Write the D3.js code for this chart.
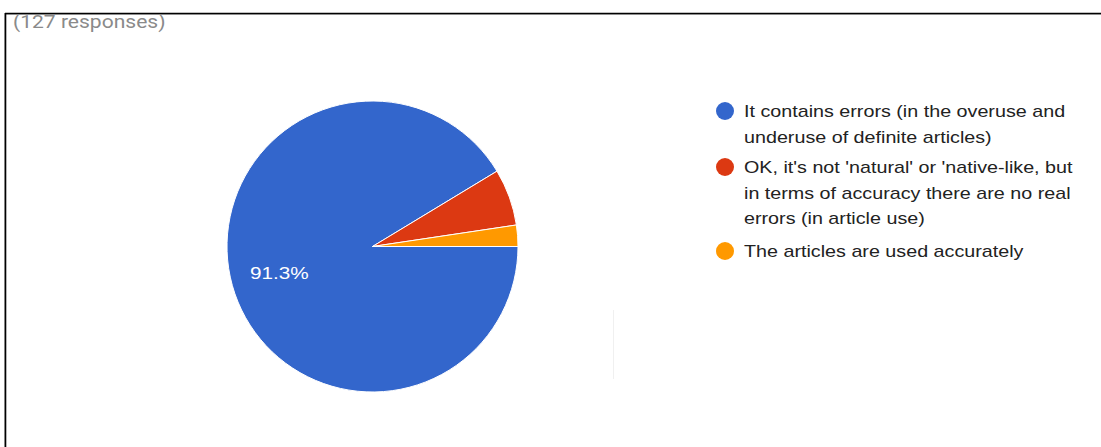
<!DOCTYPE html>
<html>
<head>
<meta charset="utf-8">
<script src="https://cdn.jsdelivr.net/npm/d3@7"></script>
<style>
  html, body { margin: 0; padding: 0; background: #fff; }
  svg { display: block; }
</style>
</head>
<body>
<svg id="chart" width="1101" height="447"></svg>
<script>
// Survey answers and response counts
const categories = [
  ["It contains errors (in the overuse and", "underuse of definite articles)"],
  ["OK, it's not 'natural' or 'native-like, but", "in terms of accuracy there are no real", "errors (in article use)"],
  ["The articles are used accurately"]
];
const counts = [116, 8, 3];
const colors = ["#3366cc", "#dc3912", "#ff9900"];
const totalLabel = "(127 responses)";

const svg = d3.select("#chart");
const W = 1101, H = 447;
const font = "'Liberation Sans', Arial, sans-serif";
const stretch = 1.16; // text is set a little wide

// Card frame: top and left edges only
svg.append("line").attr("x1", 5).attr("x2", W).attr("y1", 14.5).attr("y2", 14.5)
  .attr("stroke", "#bbb").attr("stroke-width", 1);
svg.append("line").attr("x1", 4.5).attr("x2", 4.5).attr("y1", 13).attr("y2", H)
  .attr("stroke", "#bbb").attr("stroke-width", 1);
svg.append("line").attr("x1", 5).attr("x2", W).attr("y1", 13.5).attr("y2", 13.5)
  .attr("stroke", "#000").attr("stroke-width", 1.6);
svg.append("line").attr("x1", 5.5).attr("x2", 5.5).attr("y1", 13).attr("y2", H)
  .attr("stroke", "#000").attr("stroke-width", 1.6);

// Subtitle, cut off by the top edge of the card
svg.append("clipPath").attr("id", "cardClip")
  .append("rect").attr("x", 6).attr("y", 15).attr("width", W).attr("height", H);
svg.append("g").attr("clip-path", "url(#cardClip)")
  .append("text")
  .attr("transform", "translate(13,28) scale(1.17,1)")
  .attr("font-family", "Roboto, 'Liberation Sans', Arial, sans-serif")
  .attr("font-size", 18)
  .attr("fill", "#8a8a8a")
  .text(totalLabel);

// Faint divider
svg.append("line").attr("x1", 613.5).attr("x2", 613.5).attr("y1", 310).attr("y2", 379)
  .attr("stroke", "#f0f0f0").attr("stroke-width", 1);

// Pie
const cx = 372.5, cy = 246.5, r = 145.5;
const total = d3.sum(counts);
const pie = d3.pie().sort(null).value(d => d)
  .startAngle(Math.PI / 2).endAngle(Math.PI / 2 + 2 * Math.PI);
const arcs = pie(counts);
const arc = d3.arc().innerRadius(0).outerRadius(r);
const labelArc = d3.arc().innerRadius(r * 0.665).outerRadius(r * 0.665);

const g = svg.append("g").attr("transform", `translate(${cx},${cy})`);
g.selectAll("path.slice").data(arcs).enter().append("path")
  .attr("class", "slice")
  .attr("d", arc)
  .attr("fill", (d, i) => colors[i])
  .attr("stroke", "#fff")
  .attr("stroke-width", 1);

g.selectAll("text.pct").data(arcs.filter(d => d.value / total > 0.1)).enter().append("text")
  .attr("class", "pct")
  .attr("transform", d => `translate(${labelArc.centroid(d)}) scale(1.22,1)`)
  .attr("text-anchor", "middle")
  .attr("dy", "0.36em")
  .attr("font-family", font)
  .attr("font-size", 17)
  .attr("fill", "#fff")
  .text(d => (d.value / total * 100).toFixed(1) + "%");

// Legend
const legendX = 725, textX = 744;
const itemTop = [111, 167, 251];
const lineH = 25.5;
const legend = svg.append("g");
categories.forEach((lines, i) => {
  legend.append("circle")
    .attr("cx", legendX).attr("cy", itemTop[i]).attr("r", 9)
    .attr("fill", colors[i]);
  lines.forEach((t, j) => {
    legend.append("text")
      .attr("transform", `translate(${textX},${itemTop[i] + j * lineH}) scale(${stretch},1)`)
      .attr("dy", "0.36em")
      .attr("font-family", font)
      .attr("font-size", 17)
      .attr("fill", "#222")
      .text(t);
  });
});
</script>
</body>
</html>
